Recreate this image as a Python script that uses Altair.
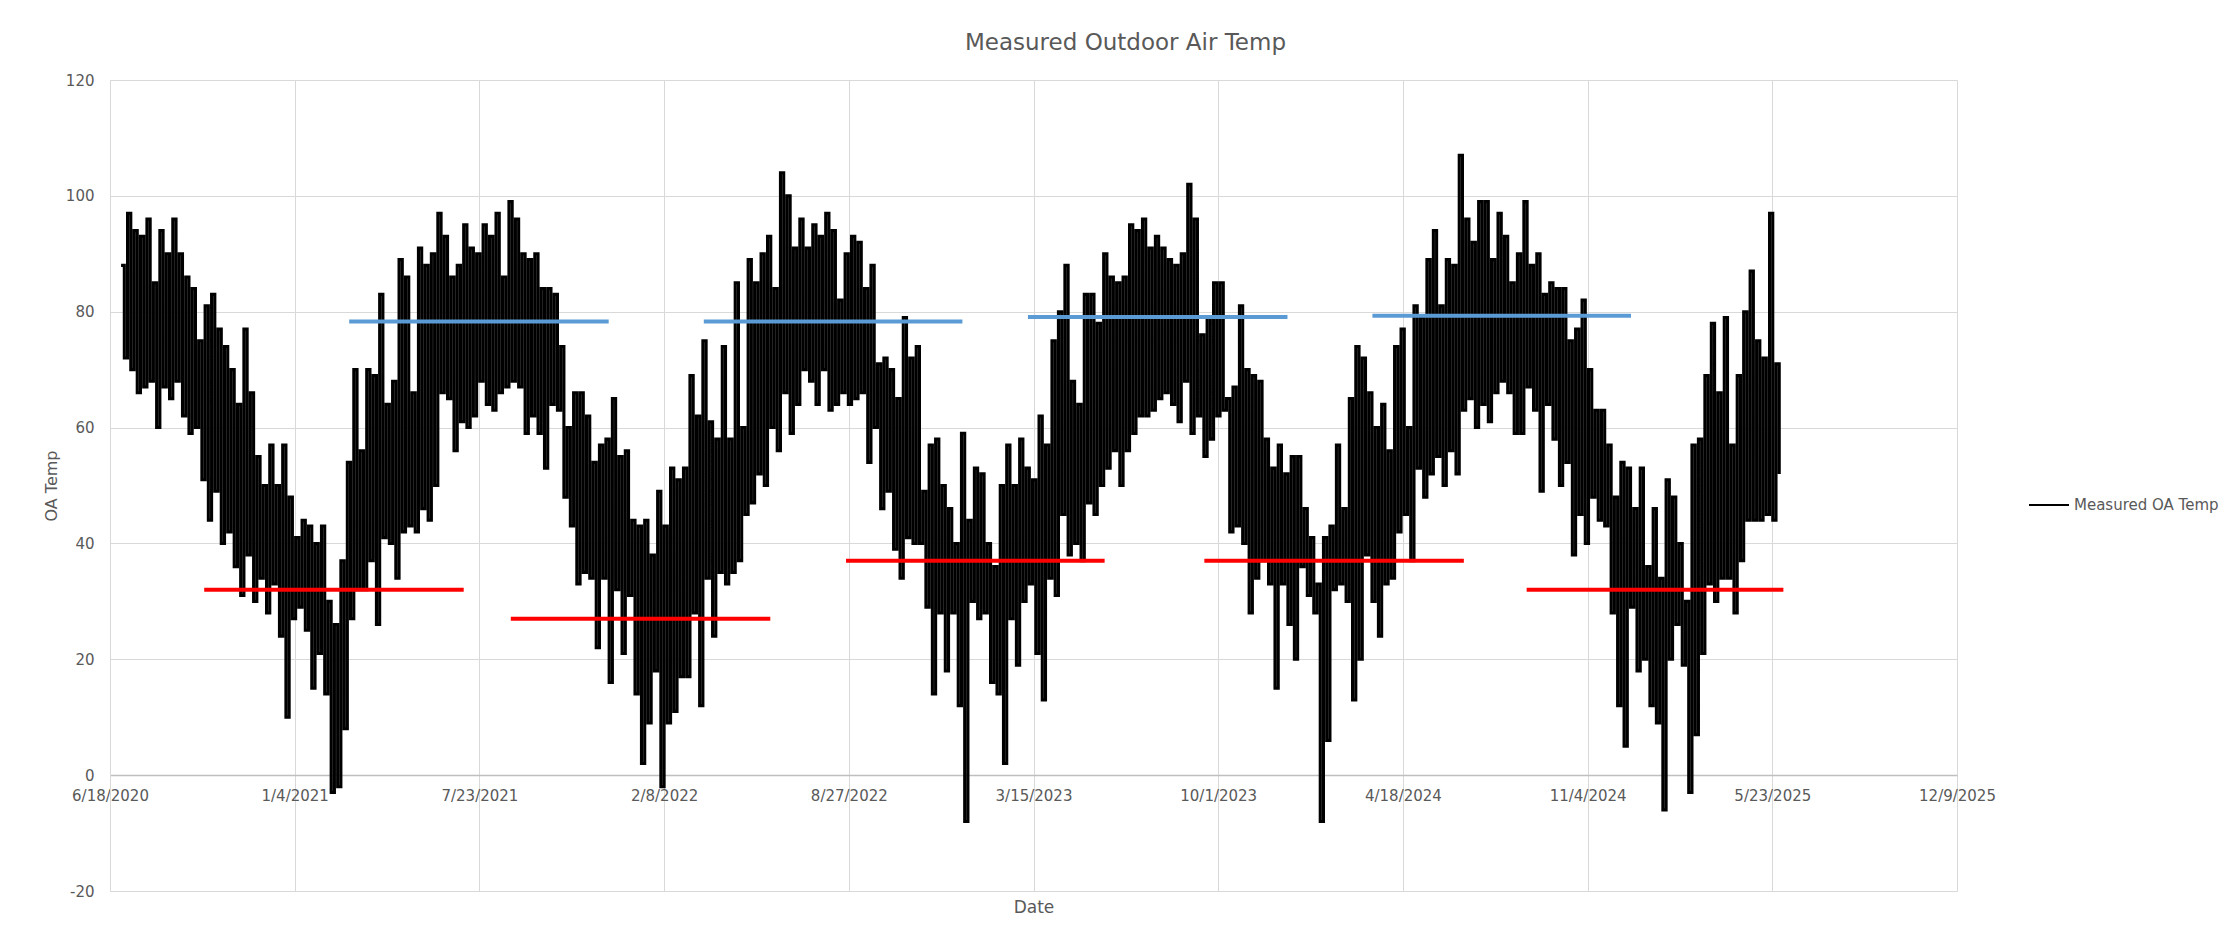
import altair as alt
import pandas as pd

# ---------------- data ----------------
chart_title = "Measured Outdoor Air Temp"
series_name = "Measured OA Temp"
y_title = "OA Temp"
x_title = "Date"

x_tick_labels = ["6/18/2020", "1/4/2021", "7/23/2021", "2/8/2022", "8/27/2022",
                 "3/15/2023", "10/1/2023", "4/18/2024", "11/4/2024", "5/23/2025",
                 "12/9/2025"]
y_ticks = [-20, 0, 20, 40, 60, 80, 100, 120]

# weekly envelope of the hourly outdoor air temperature (high / low of each week)
series_start = "2020-06-30"
weekly_high = [
    88, 97, 94, 93, 96, 85, 94, 90, 96, 90, 86, 84, 75, 81, 83, 77, 74, 70, 64, 77,
    66, 55, 50, 57, 50, 57, 48, 41, 44, 43, 40, 43, 30, 26, 37,
    54, 70, 56, 70, 69, 83, 64, 68, 89, 86, 66, 91, 88, 90, 97, 93, 86, 88, 95, 91,
    90, 95, 93, 97, 86, 99, 96, 90, 89, 90, 84, 84, 83, 74, 60, 66, 66,
    62, 54, 57, 58, 65, 55, 56, 44, 43, 44, 38, 49, 43, 53, 51, 53, 69, 62, 75, 61,
    58, 74, 58, 85, 60, 89, 85, 90, 93, 84, 104, 100, 91, 96, 91, 95, 93,
    97, 94, 82, 90, 93, 92, 84, 88, 71, 72, 70, 65, 79, 72, 74, 49, 57, 58, 50, 46,
    40, 59, 44, 53, 52, 40, 36, 50, 57, 50, 58, 53, 51, 62, 57, 75, 80, 88,
    68, 64, 83, 83, 78, 90, 86, 85, 86, 95, 94, 96, 91, 93, 91, 89, 88, 90, 102, 96,
    76, 79, 85, 85, 65, 67, 81, 70, 69, 68, 58, 53, 57, 52, 55, 55, 46,
    41, 33, 41, 43, 57, 46, 65, 74, 72, 66, 60, 64, 56, 74, 77, 60, 81, 79, 89, 94,
    81, 89, 88, 107, 96, 92, 99, 99, 89, 97, 93, 85, 90, 99, 88, 90, 83,
    85, 84, 84, 75, 77, 82, 70, 63, 63, 57, 48, 54, 53, 46, 53, 36, 46, 34, 51, 48,
    40, 30, 57, 58, 69, 78, 66, 79, 57, 69, 80, 87, 75, 72, 97, 71,
]
weekly_low = [
    72, 70, 66, 67, 68, 60, 67, 65, 68, 62, 59, 60, 51, 44, 49, 40, 42, 36, 31, 38,
    30, 34, 28, 33, 24, 10, 27, 29, 25, 15, 21, 14, -3, -2, 8,
    27, 32, 32, 37, 26, 41, 40, 34, 42, 43, 42, 46, 44, 50, 66, 65, 56, 61, 60, 62,
    68, 64, 63, 66, 67, 68, 67, 59, 62, 59, 53, 64, 63, 48, 43, 33, 35,
    34, 22, 34, 16, 32, 21, 31, 14, 2, 9, 18, -2, 9, 11, 17, 17, 28, 12, 34, 24,
    35, 33, 35, 37, 45, 47, 52, 50, 60, 56, 66, 59, 64, 70, 68, 64, 70,
    63, 64, 66, 64, 65, 66, 54, 60, 46, 49, 39, 34, 41, 40, 40, 29, 14, 28, 18, 28,
    12, -8, 30, 27, 28, 16, 14, 2, 27, 19, 30, 33, 21, 13, 34, 31, 45, 38,
    40, 37, 47, 45, 50, 53, 56, 50, 56, 59, 62, 62, 63, 65, 66, 64, 61, 68, 59, 62,
    55, 58, 62, 63, 42, 43, 40, 28, 34, 37, 33, 15, 33, 26, 20, 36, 31,
    28, -8, 6, 32, 33, 30, 13, 20, 38, 30, 24, 33, 34, 42, 45, 37, 53, 48, 52, 55,
    50, 56, 52, 63, 65, 60, 64, 61, 66, 68, 66, 59, 59, 67, 63, 49, 64,
    58, 50, 54, 38, 45, 40, 48, 44, 43, 28, 12, 5, 29, 18, 20, 12, 9, -6, 20, 26,
    19, -3, 7, 21, 33, 30, 34, 34, 28, 37, 44, 44, 44, 45, 44, 52,
]

# seasonal average segments (red = winter, blue = summer)
seg_start = ["2020-09-28", "2021-08-26", "2022-08-24", "2023-09-16", "2024-08-30",
             "2021-03-04", "2022-03-23", "2023-03-09", "2024-03-16"]
seg_end = ["2021-07-06", "2022-06-03", "2023-05-31", "2024-06-23", "2025-06-04",
           "2021-12-10", "2022-12-28", "2023-12-15", "2024-12-21"]
seg_value = [32, 27, 37, 37, 32, 78.3, 78.3, 79.1, 79.3]
seg_kind = ["winter"] * 5 + ["summer"] * 4

# ---------------- tables ----------------
start = pd.Timestamp(series_start)
rows = []
for i, (hi, lo) in enumerate(zip(weekly_high, weekly_low)):
    t = start + pd.Timedelta(days=7 * i)
    rows.append({"date": t.strftime("%Y-%m-%dT%H:%M:%SZ"), "temp": hi, "series": series_name})
    t2 = t + pd.Timedelta(hours=84)
    rows.append({"date": t2.strftime("%Y-%m-%dT%H:%M:%SZ"), "temp": lo, "series": series_name})
df_line = pd.DataFrame(rows)

df_seg = pd.DataFrame({
    "start": [s + "T00:00:00Z" for s in seg_start],
    "end": [s + "T00:00:00Z" for s in seg_end],
    "value": seg_value,
    "kind": seg_kind,
})


def to_dt(label):
    m, d, y = (int(v) for v in label.split("/"))
    return alt.DateTime(year=y, month=m, date=d, utc=True)


tick_dts = [to_dt(s) for s in x_tick_labels]

# ---------------- styling ----------------
FONT = "DejaVu Sans"
GREY_TXT = "#595959"
GRID = "#d9d9d9"

W, H = 1847, 811
x_offset = -round(H * 20 / 140)

x_scale = alt.Scale(type="utc", domain=[tick_dts[0], tick_dts[-1]])
y_scale = alt.Scale(domain=[y_ticks[0], y_ticks[-1]])

x_axis = alt.Axis(
    values=tick_dts, labelExpr="utcFormat(datum.value, '%-m/%-d/%Y')", labelFlush=False,
    labelOverlap=False, offset=x_offset, labelPadding=13, ticks=False, tickSize=0,
    domainColor="#bfbfbf", domainWidth=1.5, grid=True, gridColor=GRID, gridWidth=1,
    labelFont=FONT, labelFontSize=15, labelColor=GREY_TXT,
    title=x_title, titleFont=FONT, titleFontSize=17, titleFontWeight="normal",
    titleColor=GREY_TXT, titleY=132, titleBaseline="middle",
)
y_axis = alt.Axis(
    values=y_ticks, labelExpr="'' + datum.value", ticks=False, tickSize=0, labelPadding=16,
    domainColor=GRID, domainWidth=1, grid=True, gridColor=GRID, gridWidth=1,
    labelFont=FONT, labelFontSize=15, labelColor=GREY_TXT,
    title=y_title, titleFont=FONT, titleFontSize=16, titleFontWeight="normal",
    titleColor=GREY_TXT, titlePadding=6,
)

line = alt.Chart(df_line).mark_line(strokeWidth=3.1, interpolate="step-after").encode(
    x=alt.X("date:T", scale=x_scale, axis=x_axis),
    y=alt.Y("temp:Q", scale=y_scale, axis=y_axis),
    color=alt.Color(
        "series:N",
        scale=alt.Scale(domain=[series_name], range=["#000000"]),
        legend=alt.Legend(
            orient="none", legendX=1918, legendY=404, title=None, padding=0,
            symbolType="stroke", symbolSize=1600, symbolStrokeWidth=2,
            labelFont=FONT, labelFontSize=15, labelColor=GREY_TXT, labelOffset=4,
        ),
    ),
)

segs = alt.Chart(df_seg).mark_rule(strokeWidth=4).encode(
    x=alt.X("start:T", scale=x_scale, axis=x_axis),
    x2="end:T",
    y=alt.Y("value:Q", scale=y_scale, axis=y_axis),
    color=alt.Color("kind:N", scale=alt.Scale(domain=["winter", "summer"],
                                              range=["#FF0000", "#5B9BD5"]),
                    legend=None),
)

chart = (
    alt.layer(line, segs)
    .resolve_scale(color="independent")
    .properties(
        width=W, height=H,
        autosize=alt.AutoSizeParams(type="none"),
        padding={"left": 110, "top": 80, "right": 2236 - 110 - W, "bottom": 943 - 80 - H},
        title=alt.TitleParams(
            text=chart_title, font=FONT, fontSize=23, fontWeight="normal",
            color=GREY_TXT, anchor="middle", dx=92, offset=0, baseline="alphabetic",
        ),
        background="white",
    )
    .configure_view(stroke=None)
)

chart.save("out.html", embed_options={"renderer": "svg", "actions": False})
